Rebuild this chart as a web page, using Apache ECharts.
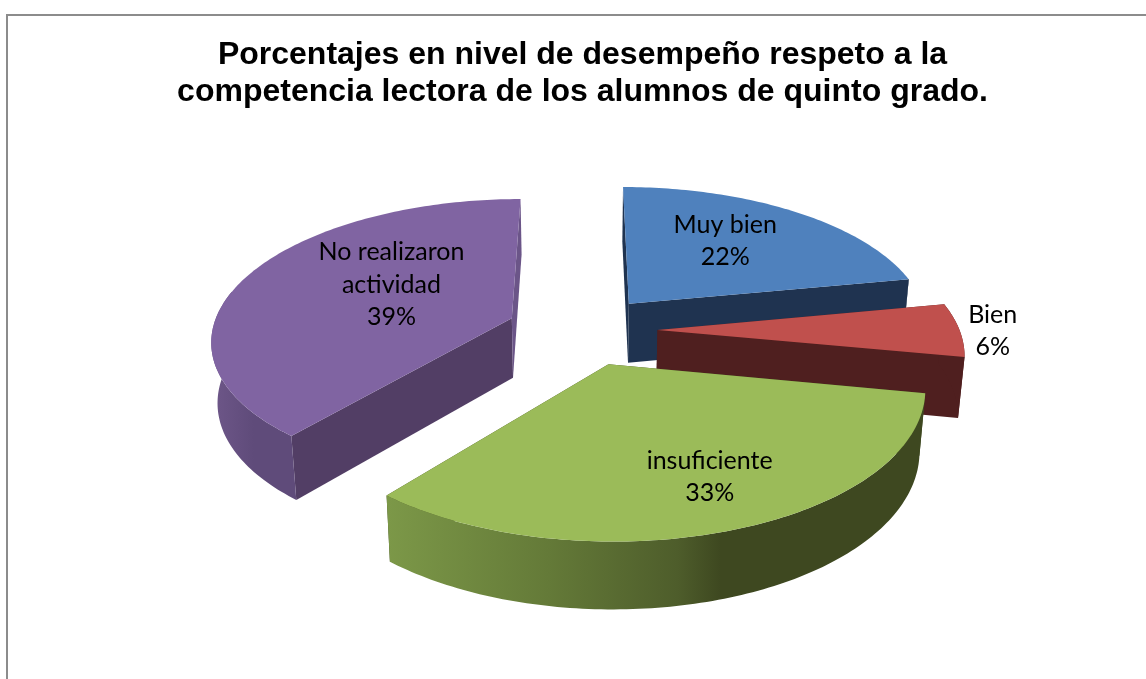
<!DOCTYPE html>
<html>
<head>
<meta charset="utf-8">
<style>html,body{margin:0;padding:0;background:#fff}#c{width:1146px;height:679px}</style>
<script src="https://cdn.jsdelivr.net/npm/echarts@6/dist/echarts.min.js"></script>
</head>
<body>
<div id="c"></div>
<script>
// ---- data ----
var categories = ['Muy bien', 'Bien', 'insuficiente', 'No realizaron\nactividad'];
var values = [22, 6, 33, 39];
var titleLines = ['Porcentajes en nivel de desempeño respeto a la', 'competencia lectora de los alumnos de quinto grado.'];

// ---- styles ----
var topColors = ['#4f81bd', '#c0504d', '#9bbb59', '#8064a2'];
var radialWallColors = ['#1f3350', '#4f1f1f', '#3e4820', '#523e65'];
var arcWallColors = [
  '#1f3350', '#4f1f1f',
  { type: 'linear', x: 0, y: 0, x2: 1, y2: 0, colorStops: [
    { offset: 0, color: '#7c9848' }, { offset: 0.3, color: '#647a38' },
    { offset: 0.54, color: '#4e5d2b' }, { offset: 0.62, color: '#3e4820' }, { offset: 1, color: '#3e4820' }] },
  { type: 'linear', x: 0, y: 0, x2: 1, y2: 0, colorStops: [
    { offset: 0, color: '#6e5789' }, { offset: 0.5, color: '#5f4b7a' }, { offset: 1, color: '#5f4b7a' }] }
];

// ---- layout of the tilted pie ----
var CX = 582, CY = 330;      // pie centre on the page
var RX = 302, B = 140.6;     // horizontal radius, vertical scale
var PERSP = 0.145;           // foreshortening toward the back
var DEPTH = 60, DEPTH_PERSP = 0.6, CONVERGE = 0.983;
var EXPLODE = 0.25;
var radiusScale = [1, 1, 1, 0.992];
var drawOrder = [0, 1, 3, 2];
var labelRadius = [0.5, 1.1, 0.7, 0.5];
var labelNudge = [[10, -14], [3, 1], [16, 2.5], [15, -11]];

function project(x, y, lower) {
  var s = 1 / (1 - PERSP * y);
  var conv = lower ? CONVERGE : 1;
  return [CX + RX * x * s * conv,
          CY + B * y * s + (lower ? DEPTH * (1 + (s - 1) * DEPTH_PERSP) : 0)];
}
function dir(deg) {
  var a = deg * Math.PI / 180;
  return [Math.sin(a), -Math.cos(a)];
}

var total = values.reduce(function (a, b) { return a + b; }, 0);
var cum = 0;
var slices = values.map(function (v, i) {
  var start = cum / total * 360;
  cum += v;
  var end = cum / total * 360;
  var d = dir((start + end) / 2);
  return { index: i, value: v, start: start, end: end, bis: d,
           apex: [d[0] * EXPLODE, d[1] * EXPLODE] };
});

function renderItem(params, api) {
  var sl = slices[drawOrder[params.dataIndex]];
  var i = sl.index, ax = sl.apex[0], ay = sl.apex[1], rs = radiusScale[i];
  var world = [];
  for (var a = sl.start; a < sl.end; a += 1) {
    var d = dir(a);
    world.push([ax + d[0] * rs, ay + d[1] * rs]);
  }
  var de = dir(sl.end);
  world.push([ax + de[0] * rs, ay + de[1] * rs]);

  var up = world.map(function (w) { return project(w[0], w[1], false); });
  var lo = world.map(function (w) { return project(w[0], w[1], true); });
  var apexUp = project(ax, ay, false), apexLo = project(ax, ay, true);

  var children = [];
  // radial walls
  children.push({ type: 'polygon', shape: { points: [apexUp, up[0], lo[0], apexLo] },
    style: { fill: radialWallColors[i] } });
  children.push({ type: 'polygon',
    shape: { points: [apexUp, up[up.length - 1], lo[lo.length - 1], apexLo] },
    style: { fill: i === 3 ? '#6b5588' : radialWallColors[i] } });
  // arc wall: only the part facing the viewer
  var front = [], back = [];
  world.forEach(function (w, k) {
    if (w[1] - ay > -0.2) { front.push(up[k]); back.unshift(lo[k]); }
  });
  if (front.length > 1) {
    children.push({ type: 'polygon', shape: { points: front.concat(back) },
      style: { fill: arcWallColors[i] } });
  }
  // top face
  children.push({ type: 'polygon', shape: { points: [apexUp].concat(up) },
    style: { fill: topColors[i] } });
  // label
  var t = labelRadius[i];
  var lp = project(ax + sl.bis[0] * t, ay + sl.bis[1] * t, false);
  children.push({ type: 'text', z2: 10,
    x: lp[0] + labelNudge[i][0], y: lp[1] + labelNudge[i][1],
    style: { text: categories[i] + '\n' + sl.value + '%', fill: '#000',
      font: '25px Lato', lineHeight: 32.5, align: 'center', verticalAlign: 'middle' } });
  return { type: 'group', children: children };
}

var chart = echarts.init(document.getElementById('c'), null, { renderer: 'canvas' });
chart.setOption({
  animation: false,
  backgroundColor: '#fff',
  title: {
    text: titleLines.join('\n'),
    left: 577.5, top: 32, textAlign: 'center',
    textStyle: { fontFamily: 'Liberation Sans', fontSize: 32, fontWeight: 'bold', color: '#000', lineHeight: 37 }
  },
  graphic: [{
    type: 'polyline', silent: true,
    shape: { points: [[7, 690], [7, 15], [1160, 15]] },
    style: { stroke: '#8c8c8c', lineWidth: 2, fill: null }
  }],
  series: [{
    type: 'custom',
    coordinateSystem: 'none',
    renderItem: renderItem,
    data: drawOrder.map(function (k) { return values[k]; })
  }]
});
</script>
</body>
</html>
